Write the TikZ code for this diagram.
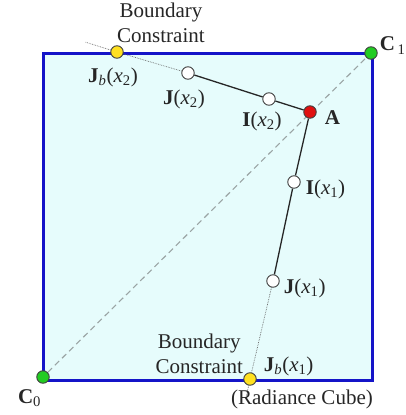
\documentclass[tikz,border=0pt]{standalone}
\usepackage{fontspec}
\setmainfont{Liberation Serif}
\usetikzlibrary{positioning,backgrounds}
\definecolor{cubefill}{HTML}{E6FCFC}
\definecolor{cubeedge}{HTML}{1414C8}
\definecolor{corner}{HTML}{22CC22}
\definecolor{bound}{HTML}{FFE020}
\definecolor{anchorpt}{HTML}{E01010}
\definecolor{ray}{HTML}{9AA4A4}
\tikzset{
  pt/.style={circle, draw=black!75, line width=0.9pt, minimum size=12.5pt, inner sep=0pt},
  lbl/.style={inner sep=0pt, font=\fontsize{21}{25}\selectfont, text=black!85},
  segline/.style={line width=1.3pt, draw=black!85},
  extline/.style={densely dotted, line width=0.7pt, draw=black!60},
  diagline/.style={dash pattern=on 6pt off 4pt, line width=1.1pt, draw=ray}
}
\begin{document}
\begin{tikzpicture}[x=1pt,y=-1pt]
    \useasboundingbox (0,0) rectangle (406,415);
    % corners and sample points
    \node[pt,fill=corner] (c0) at (43,377) {};
    \node[pt,fill=corner] (c1) at (371,53) {};
    \node[pt,fill=anchorpt] (a) at (310,112) {};
    \node[pt,fill=white] (ix2) at (269,99) {};
    \node[pt,fill=white] (jx2) at (188,73) {};
    \node[pt,fill=bound] (jbx2) at (117,52) {};
    \node[pt,fill=white] (ix1) at (294,182) {};
    \node[pt,fill=white] (jx1) at (273,281) {};
    \node[pt,fill=bound] (jbx1) at (250,379) {};
    \coordinate (ext2) at (85,42);
    \coordinate (ext1) at (246,398);
    \coordinate (se) at (372,380);

    % labels
    \node[lbl,right=8pt of a,yshift=-6pt] (la) {\textbf{A}};
    \node[lbl,below=6pt of ix2,xshift=-7pt] (lix2) {\textbf{I}(\textit{x}\textsubscript{2})};
    \node[lbl,below=10pt of jx2,xshift=-4pt] (ljx2) {\textbf{J}(\textit{x}\textsubscript{2})};
    \node[lbl,below=9pt of jbx2,xshift=-4pt] (ljbx2) {\textbf{J}\textsubscript{\textit{b}}(\textit{x}\textsubscript{2})};
    \node[lbl,right=5pt of ix1,yshift=-7pt] (lix1) {\textbf{I}(\textit{x}\textsubscript{1})};
    \node[lbl,right=4pt of jx1,yshift=-7pt] (ljx1) {\textbf{J}(\textit{x}\textsubscript{1})};
    \node[lbl,above right=-2pt and 9pt of jbx1] (ljbx1) {\textbf{J}\textsubscript{\textit{b}}(\textit{x}\textsubscript{1})};
    \node[lbl,above left=0pt and 2pt of jbx1,align=center] (bc1) {Boundary\\Constraint};
    \node[lbl,anchor=south west,align=center] (bc2) at ([yshift=2pt]jbx2.north) {Boundary\\Constraint};
    \node[lbl,below left=10pt and -1pt of se] (cube) {(Radiance Cube)};
    \node[lbl,below left=8pt and -3pt of c0] (lc0) {\textbf{C}\textsubscript{0}};
    \node[lbl,above right=-6pt and 4pt of c1] (lc1) {\textbf{C}\textsubscript{\,1}};

    \begin{pgfonlayer}{background}
      % radiance cube
      \draw[cubeedge,fill=cubefill,line width=3pt] (43,53) rectangle (se);
      \draw[diagline] (c0) -- (c1);
      \draw[extline] (jx2) -- (jbx2) -- (ext2);
      \draw[extline] (jx1) -- (jbx1) -- (ext1);
      \draw[segline] (jx2) -- (ix2) -- (a) -- (ix1) -- (jx1);
    \end{pgfonlayer}
\end{tikzpicture}
\end{document}
